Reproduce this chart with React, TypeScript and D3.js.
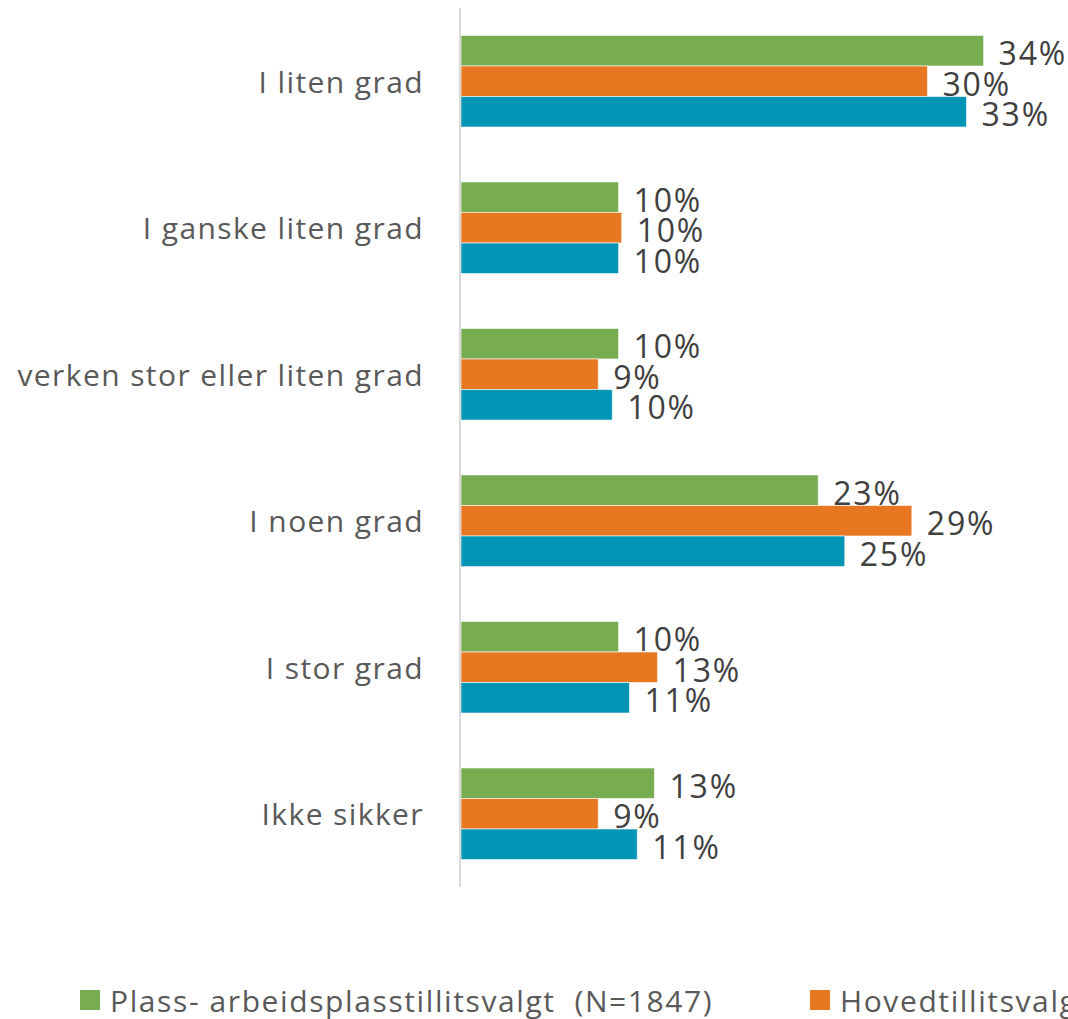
import React from "react";
import * as d3 from "d3";

const categories = [
  "I liten grad",
  "I ganske liten grad",
  "verken stor eller liten grad",
  "I noen grad",
  "I stor grad",
  "Ikke sikker",
];
const seriesNames = [
  "Plass- arbeidsplasstillitsvalgt  (N=1847)",
  "Hovedtillitsvalgt  (N=512)",
  "Alle",
];
const seriesColors = ["#77AC51", "#E87722", "#0095B5"];
const plassValues = [33.5, 10.1, 10.1, 22.9, 10.1, 12.4];
const hovedValues = [29.9, 10.3, 8.8, 28.9, 12.6, 8.8];
const alleValues = [32.4, 10.1, 9.7, 24.6, 10.8, 11.3];
const plassLabels = ["34%", "10%", "10%", "23%", "10%", "13%"];
const hovedLabels = ["30%", "10%", "9%", "29%", "13%", "9%"];
const alleLabels = ["33%", "10%", "10%", "25%", "11%", "11%"];

const W = 1068;
const H = 1019;
const FONT = "'Open Sans', 'Noto Sans', sans-serif";

export default function App() {
  const values = [plassValues, hovedValues, alleValues];
  const labels = [plassLabels, hovedLabels, alleLabels];
  const x = d3.scaleLinear().domain([0, 39]).range([461, 1069.4]);
  const y = d3.scaleBand<string>().domain(categories).range([8, 887]).paddingInner(0.375).paddingOuter(0.1875);
  const inner = d3
    .scaleBand<number>()
    .domain([0, 1, 2])
    .range([0, y.bandwidth()]);

  return (
    <svg
      width={W}
      height={H}
      style={{ position: "absolute", left: 0, top: 0, background: "#fff" }}
      fontFamily={FONT}
    >
      <rect x={0} y={0} width={W} height={H} fill="#fff" />
      {categories.map((c) => (
        <text
          key={c}
          x={424}
          y={(y(c) as number) + y.bandwidth() / 2}
          textAnchor="end"
          dominantBaseline="central"
          fontSize={30}
          letterSpacing={1.4}
          fill="#595959"
        >
          {c}
        </text>
      ))}
      {values.map((vals, si) =>
        categories.map((c, ci) => {
          const by = (y(c) as number) + (inner(si) as number);
          const bh = inner.bandwidth();
          return (
            <g key={`${si}-${ci}`}>
              <rect
                x={x(0)}
                y={by}
                width={x(vals[ci]) - x(0)}
                height={bh}
                fill={seriesColors[si]}
                stroke="#ffffff"
                strokeOpacity={0.6}
                strokeWidth={1}
              />
              <text
                x={x(vals[ci]) + 15}
                y={by + bh / 2 + 2}
                dominantBaseline="central"
                fontSize={32}
                letterSpacing={1.8}
                fill="#404040"
              >
                {labels[si][ci]}
              </text>
            </g>
          );
        })
      )}
      <line x1={460} x2={460} y1={8} y2={887} stroke="#d9d9d9" strokeWidth={2} />
      <g fontSize={30} letterSpacing={1.6} fill="#595959">
        <rect x={80} y={990} width={20} height={20} fill={seriesColors[0]} />
        <text x={110} y={1000} dominantBaseline="central" style={{ whiteSpace: "pre" }}>
          {seriesNames[0]}
        </text>
        <rect x={810} y={990} width={20} height={20} fill={seriesColors[1]} />
        <text x={840} y={1000} dominantBaseline="central" style={{ whiteSpace: "pre" }}>
          {seriesNames[1]}
        </text>
        <rect x={1400} y={990} width={20} height={20} fill={seriesColors[2]} />
        <text x={1430} y={1000} dominantBaseline="central" style={{ whiteSpace: "pre" }}>
          {seriesNames[2]}
        </text>
      </g>
    </svg>
  );
}
